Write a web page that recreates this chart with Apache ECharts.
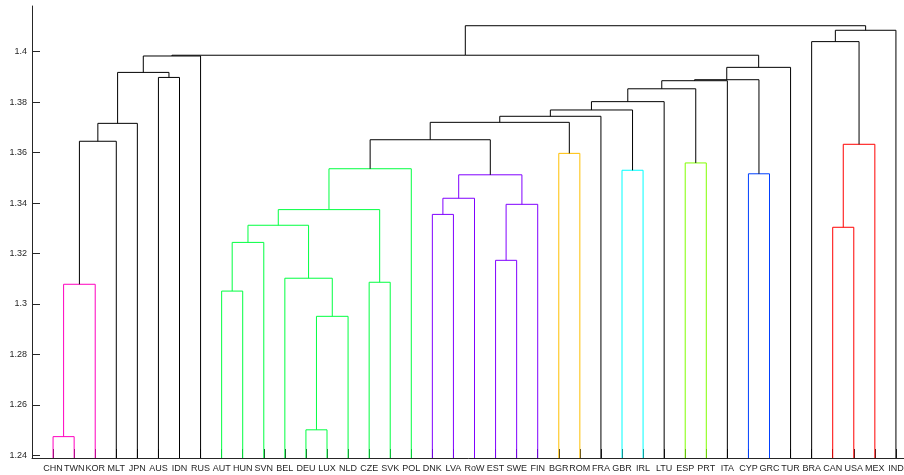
<!DOCTYPE html>
<html><head><meta charset="utf-8">
<script src="https://cdn.jsdelivr.net/npm/echarts@6/dist/echarts.min.js"></script>
<style>html,body{margin:0;padding:0;background:#fff}#c{width:904px;height:475px}</style>
</head><body><div id="c"></div>
<script>
// Leaf order (categories)
const leaves = ['CHN','TWN','KOR','MLT','JPN','AUS','IDN','RUS','AUT','HUN','SVN','BEL','DEU','LUX','NLD','CZE','SVK','POL','DNK','LVA','RoW','EST','SWE','FIN','BGR','ROM','FRA','GBR','IRL','LTU','ESP','PRT','ITA','CYP','GRC','TUR','BRA','CAN','USA','MEX','IND'];

// Linkage: [left node, right node, merge height]; merge k creates node 'n'+(k+1)
const merges = [
  ['CHN','TWN',1.2474], ['n1','KOR',1.3078], ['n2','MLT',1.3645], ['n3','JPN',1.3716],
  ['AUS','IDN',1.3898], ['n4','n5',1.3918], ['n6','RUS',1.3983],
  ['AUT','HUN',1.3051], ['n8','SVN',1.3244], ['DEU','LUX',1.2501], ['n10','NLD',1.2951],
  ['BEL','n11',1.3102], ['n9','n12',1.3312], ['CZE','SVK',1.3086], ['n13','n14',1.3374],
  ['n15','POL',1.3536],
  ['DNK','LVA',1.3355], ['n17','RoW',1.3419], ['EST','SWE',1.3173], ['n19','FIN',1.3395],
  ['n18','n20',1.3512], ['n16','n21',1.3651], ['BGR','ROM',1.3597], ['n22','n23',1.3720],
  ['n24','FRA',1.3744], ['GBR','IRL',1.3530], ['n25','n26',1.3769], ['n27','LTU',1.3802],
  ['ESP','PRT',1.3559], ['n28','n29',1.3853], ['n30','ITA',1.3885], ['CYP','GRC',1.3516],
  ['n31','n32',1.3889], ['n33','TUR',1.3938], ['n7','n34',1.3986],
  ['CAN','USA',1.3304], ['n36','MEX',1.3633], ['BRA','n37',1.4040], ['n38','IND',1.4085],
  ['n35','n39',1.4103]
];

// Colour groups (cluster membership)
const groups = [
  ['CHN','TWN','KOR'],
  ['AUT','HUN','SVN','BEL','DEU','LUX','NLD','CZE','SVK','POL'],
  ['DNK','LVA','RoW','EST','SWE','FIN'],
  ['BGR','ROM'],
  ['GBR','IRL'],
  ['ESP','PRT'],
  ['CYP','GRC'],
  ['CAN','USA','MEX']
];
const groupColors = ['#ff00bf','#00ff40','#8000ff','#ffbf00','#00ffff','#80ff00','#0040ff','#ff0000'];

const yTicks = [1.24,1.26,1.28,1.30,1.32,1.34,1.36,1.38,1.40];
const Y_MIN = 1.23893, Y_MAX = 1.41812;

const pos = {}, hgt = {}, members = {};
leaves.forEach((l,i)=>{ pos[l]=i+1; hgt[l]=Y_MIN; members[l]=[l]; });
const links = merges.map((m,k)=>{
  const id = 'n'+(k+1);
  const a = m[0], b = m[1], h = m[2];
  pos[id] = (pos[a]+pos[b])/2; hgt[id] = h;
  members[id] = members[a].concat(members[b]);
  let g = -1;
  groups.forEach((grp,gi)=>{ if (members[id].every(x=>grp.indexOf(x)>=0)) g = gi; });
  return [pos[a], hgt[a], pos[b], hgt[b], h, g];
});

const axisColor = '#262626';
const chart = echarts.init(document.getElementById('c'));
chart.setOption({
  animation: false,
  backgroundColor: '#fff',
  grid: { left: 32, top: 6, width: 885, height: 452, containLabel: false, outerBoundsMode: 'none' },
  xAxis: {
    type: 'value', min: 0, max: leaves.length + 1, interval: 1,
    splitLine: { show: false },
    axisLine: { show: true, lineStyle: { color: axisColor, width: 1 } },
    axisTick: { inside: true, length: 9, lineStyle: { color: axisColor } },
    axisLabel: { margin: 6, fontSize: 9, fontFamily: 'Liberation Sans', color: axisColor,
      formatter: v => leaves[v-1] || '' }
  },
  yAxis: {
    type: 'value', min: Y_MIN, max: Y_MAX,
    splitLine: { show: false },
    axisLine: { show: true, lineStyle: { color: axisColor, width: 1 } },
    axisTick: { show: true, inside: true, length: 8, customValues: yTicks, lineStyle: { color: axisColor } },
    axisLabel: { margin: 5, fontSize: 9, fontFamily: 'Liberation Sans', color: axisColor, customValues: yTicks,
      formatter: v => String(+(+v).toFixed(2)) }
  },
  series: [{
    type: 'custom',
    coordinateSystem: 'cartesian2d',
    clip: true,
    encode: { x: [0,2], y: [1,3,4] },
    data: links,
    renderItem: function (params, api) {
      const p1 = api.coord([api.value(0), api.value(1)]);
      const p2 = api.coord([api.value(0), api.value(4)]);
      const p3 = api.coord([api.value(2), api.value(4)]);
      const p4 = api.coord([api.value(2), api.value(3)]);
      const g = api.value(5);
      return { type: 'polyline', shape: { points: [p1,p2,p3,p4] },
        style: { stroke: g >= 0 ? groupColors[g] : '#000', fill: null, lineWidth: 1 } };
    }
  }]
});
</script>
</body></html>
